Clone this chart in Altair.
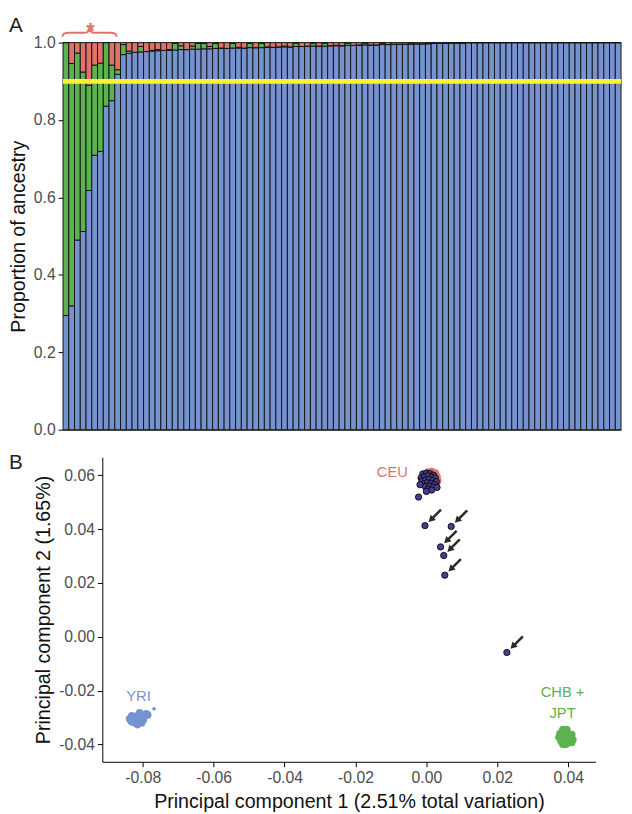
import altair as alt
import pandas as pd

# ---------------- Panel A data (97 individuals) ----------------
blue = [0.295, 0.320, 0.490, 0.512, 0.618, 0.709, 0.719, 0.836, 0.850, 0.918,
        0.969, 0.972, 0.975, 0.976, 0.977, 0.978, 0.979, 0.980, 0.980, 0.981,
        0.982, 0.982, 0.983, 0.983, 0.984, 0.984, 0.985, 0.985, 0.985, 0.986,
        0.986, 0.986, 0.987, 0.987, 0.987, 0.988, 0.988, 0.989, 0.989, 0.989,
        0.990, 0.990, 0.990, 0.991, 0.991, 0.991, 0.992, 0.992, 0.992, 0.993,
        0.993, 0.993, 0.994, 0.994, 0.994, 0.995, 0.995, 0.995, 0.996, 0.996,
        0.996, 0.997, 0.997, 0.997, 0.998, 0.998, 0.998, 0.999, 0.999, 0.999,
        1.0, 1.0, 1.0, 1.0, 1.0, 1.0, 1.0, 1.0, 1.0, 1.0,
        1.0, 1.0, 1.0, 1.0, 1.0, 1.0, 1.0, 1.0, 1.0, 1.0,
        1.0, 1.0, 1.0, 1.0, 1.0, 1.0, 1.0]
green = [0.705, 0.626, 0.483, 0.412, 0.272, 0.233, 0.228, 0.164, 0.092, 0.012,
         0.026, 0.006, 0.000, 0.014, 0.000, 0.002, 0.003, 0.000, 0.002, 0.017,
         0.010, 0.000, 0.008, 0.015, 0.014, 0.006, 0.013, 0.001, 0.000, 0.012,
         0.002, 0.000, 0.011, 0.000, 0.011, 0.001, 0.000, 0.000, 0.002, 0.000,
         0.009, 0.000, 0.001, 0.008, 0.000, 0.008, 0.000, 0.001, 0.000, 0.006,
         0.000, 0.001, 0.005, 0.000, 0.000, 0.004, 0.000, 0.001, 0.000, 0.000,
         0.003, 0.000, 0.000, 0.002, 0.001, 0.000, 0.001, 0.000, 0.001, 0.000,
         0.0, 0.0, 0.0, 0.0, 0.0, 0.0, 0.0, 0.0, 0.0, 0.0,
         0.0, 0.0, 0.0, 0.0, 0.0, 0.0, 0.0, 0.0, 0.0, 0.0,
         0.0, 0.0, 0.0, 0.0, 0.0, 0.0, 0.0]
red = [0.000, 0.054, 0.027, 0.076, 0.110, 0.058, 0.053, 0.000, 0.058, 0.070,
       0.005, 0.022, 0.025, 0.010, 0.023, 0.020, 0.018, 0.020, 0.018, 0.002,
       0.008, 0.018, 0.009, 0.002, 0.002, 0.010, 0.002, 0.014, 0.015, 0.002,
       0.012, 0.014, 0.002, 0.013, 0.002, 0.011, 0.012, 0.011, 0.009, 0.011,
       0.001, 0.010, 0.009, 0.001, 0.009, 0.001, 0.008, 0.007, 0.008, 0.001,
       0.007, 0.006, 0.001, 0.006, 0.006, 0.001, 0.005, 0.004, 0.004, 0.004,
       0.001, 0.003, 0.003, 0.001, 0.001, 0.002, 0.001, 0.001, 0.000, 0.001,
       0.0, 0.0, 0.0, 0.0, 0.0, 0.0, 0.0, 0.0, 0.0, 0.0,
       0.0, 0.0, 0.0, 0.0, 0.0, 0.0, 0.0, 0.0, 0.0, 0.0,
       0.0, 0.0, 0.0, 0.0, 0.0, 0.0, 0.0]
threshold = 0.9
a_ticks = [0.0, 0.2, 0.4, 0.6, 0.8, 1.0]

# ---------------- Panel B data ----------------
yri_x = [-0.0837, -0.0831, -0.0831, -0.0823, -0.0823, -0.0815, -0.0815, -0.0815,
         -0.0806, -0.0806, -0.0801, -0.0798, -0.0793, -0.0790, -0.0809, -0.0826, -0.0786,
         -0.0820, -0.0810, -0.0800, -0.0834, -0.0818, -0.0803]
yri_y = [-0.0304, -0.0293, -0.0315, -0.0301, -0.0319, -0.0293, -0.0312, -0.0326,
         -0.0301, -0.0315, -0.0290, -0.0308, -0.0293, -0.0286, -0.0282, -0.0308, -0.0290,
         -0.0308, -0.0308, -0.0300, -0.0310, -0.0298, -0.0320]
yri_dot_x = [-0.0768]
yri_dot_y = [-0.0267]

chb_x = [0.0385, 0.0396, 0.0377, 0.0388, 0.0399, 0.0410, 0.0374, 0.0385, 0.0396,
         0.0407, 0.0413, 0.0380, 0.0391, 0.0402, 0.0410, 0.0394, 0.0385, 0.0392]
chb_y = [-0.0344, -0.0344, -0.0359, -0.0359, -0.0359, -0.0363, -0.0373, -0.0373, -0.0373,
         -0.0377, -0.0381, -0.0388, -0.0388, -0.0392, -0.0392, -0.0399, -0.0399, -0.0366]

ceu_x = [0.0005, 0.0015, 0.0025, 0.0030, 0.0032, 0.0020, 0.0010, 0.0000, -0.0010, 0.0028, 0.0012]
ceu_y = [0.0612, 0.0614, 0.0608, 0.0595, 0.0580, 0.0565, 0.0555, 0.0575, 0.0595, 0.0570, 0.0600]

sample_x = [-0.0010, 0.0000, 0.0010, 0.0020, -0.0015, -0.0005, 0.0005, 0.0015, 0.0025,
            -0.0012, -0.0002, 0.0008, 0.0018, 0.0028, -0.0008, 0.0003, 0.0013, 0.0023,
            -0.0003, 0.0010, 0.0020, 0.0005, 0.0015, 0.0030, -0.0018, 0.0000,
            -0.0022, -0.0004, 0.0070, 0.0040, 0.0049, 0.0052, 0.0227]
sample_y = [0.0605, 0.0608, 0.0606, 0.0600, 0.0590, 0.0595, 0.0598, 0.0593, 0.0590,
            0.0578, 0.0582, 0.0585, 0.0580, 0.0576, 0.0568, 0.0572, 0.0570, 0.0566,
            0.0558, 0.0560, 0.0556, 0.0548, 0.0545, 0.0555, 0.0565, 0.0540,
            0.0519, 0.0413, 0.0410, 0.0334, 0.0302, 0.0229, -0.0058]
arrow_x = [-0.0004, 0.0070, 0.0040, 0.0049, 0.0052, 0.0227]
arrow_y = [0.0413, 0.0410, 0.0334, 0.0302, 0.0229, -0.0058]

label_text = ["CEU", "YRI", "CHB +", "JPT"]
label_x = [-0.0096, -0.0812, 0.0384, 0.0384]
label_y = [0.0610, -0.0220, -0.0206, -0.0285]
label_grp = ["CEU", "YRI", "CHB", "CHB"]

bx_ticks = [-0.08, -0.06, -0.04, -0.02, 0.00, 0.02, 0.04]
by_ticks = [-0.04, -0.02, 0.00, 0.02, 0.04, 0.06]

# ---------------- styling ----------------
FONT = "Liberation Sans"
BLUE = "#7793CF"
GREEN = "#5CB24F"
RED = "#E2716A"
PURPLE = "#483D8B"
YELLOW = "#F8F430"
LABEL_COL = "#4D4D4D"
GRP_SCALE = alt.Scale(domain=["CEU", "YRI", "CHB"], range=[RED, BLUE, GREEN])

# ---------------- Panel A ----------------
rows = []
for i in range(len(blue)):
    rows.append({"bar": i + 1, "g": "YRI", "ord": 0, "value": blue[i]})
    rows.append({"bar": i + 1, "g": "CHB", "ord": 1, "value": green[i]})
    rows.append({"bar": i + 1, "g": "CEU", "ord": 2, "value": red[i]})
bars_df = pd.DataFrame(rows)

bars = alt.Chart(bars_df).mark_bar(stroke="#141414", strokeWidth=1).encode(
    x=alt.X("bar:O", scale=alt.Scale(paddingInner=0, paddingOuter=0),
            axis=alt.Axis(labels=False, ticks=False, title=None, domainColor="#000000")),
    y=alt.Y("value:Q", stack="zero",
            scale=alt.Scale(domain=[0, 1], nice=False),
            axis=alt.Axis(values=a_ticks, format=".1f", title="Proportion of ancestry",
                          titlePadding=5)),
    color=alt.Color("g:N", scale=GRP_SCALE, legend=None),
    order=alt.Order("ord:Q"),
)

yline = alt.Chart(pd.DataFrame({"t": [threshold]})).mark_rule(
    color=YELLOW, strokeWidth=5).encode(y="t:Q")

# curly brace drawn as a wide custom symbol (x range -4..4 keeps the symbol bounds small)
BRACE = ("M -4 0.58 C -4 0.12 -3.72 0 -3.04 0 L -0.8 0 C -0.28 0 -0.08 -0.19 0 -0.58 "
         "C 0.08 -0.19 0.28 0 0.8 0 L 3.04 0 C 3.72 0 4 0.12 4 0.58")
brace = alt.Chart(pd.DataFrame({"s": ["brace"]})).mark_point(
    shape=BRACE, filled=False, size=189, stroke=RED, strokeWidth=2, opacity=1).encode(
    x=alt.value(27), y=alt.value(-10))

star = alt.Chart(pd.DataFrame({"s": ["*"]})).mark_text(
    color=RED, fontSize=22, font=FONT, fontWeight="bold",
    align="center", baseline="middle").encode(
    x=alt.value(28), y=alt.value(-12), text="s:N")

a_lab = alt.Chart(pd.DataFrame({"s": ["A"]})).mark_text(
    color="#222222", fontSize=21, font=FONT, align="left", baseline="top").encode(
    x=alt.value(-55), y=alt.value(-28), text="s:N")

panel_a = alt.layer(bars, yline, brace, star, a_lab).properties(width=568, height=394)

# ---------------- Panel B ----------------
blob_df = pd.concat([
    pd.DataFrame({"x": ceu_x, "y": ceu_y, "g": "CEU"}),
    pd.DataFrame({"x": yri_x, "y": yri_y, "g": "YRI"}),
    pd.DataFrame({"x": chb_x, "y": chb_y, "g": "CHB"}),
], ignore_index=True)

xs = alt.Scale(domain=[-0.0914, 0.0477], nice=False, zero=False)
ys = alt.Scale(domain=[-0.0464, 0.0667], nice=False, zero=False)
fmt = "(datum.value < 0 ? '-' : '') + format(abs(datum.value), '.2f')"

blobs = alt.Chart(blob_df).mark_circle(size=60, opacity=1).encode(
    x=alt.X("x:Q", scale=xs, axis=alt.Axis(values=bx_ticks, labelExpr=fmt, titlePadding=7,
            title="Principal component 1 (2.51% total variation)")),
    y=alt.Y("y:Q", scale=ys, axis=alt.Axis(values=by_ticks, labelExpr=fmt,
            title="Principal component 2 (1.65%)", titlePadding=5)),
    color=alt.Color("g:N", scale=GRP_SCALE, legend=None),
)

dot = alt.Chart(pd.DataFrame({"x": yri_dot_x, "y": yri_dot_y})).mark_circle(
    size=14, opacity=1, color=BLUE).encode(x=alt.X("x:Q", scale=xs), y=alt.Y("y:Q", scale=ys))

samples = alt.Chart(pd.DataFrame({"x": sample_x, "y": sample_y})).mark_point(
    shape="circle", filled=True, size=42, fill=PURPLE, stroke="#000000",
    strokeWidth=0.8, opacity=1).encode(x=alt.X("x:Q", scale=xs), y=alt.Y("y:Q", scale=ys))

ARROW = "M -1 -0.14 L 0.25 -0.14 L 0.25 -0.42 L 1 0 L 0.25 0.42 L 0.25 0.14 L -1 0.14 Z"
arrows = alt.Chart(pd.DataFrame({"x": arrow_x, "y": arrow_y})).mark_point(
    shape=ARROW, filled=True, size=320, angle=135, color="#2A2A2A", opacity=1,
    xOffset=10, yOffset=-10, strokeWidth=0).encode(
    x=alt.X("x:Q", scale=xs), y=alt.Y("y:Q", scale=ys))

labels = alt.Chart(pd.DataFrame({"x": label_x, "y": label_y, "t": label_text,
                                 "g": label_grp})).mark_text(
    fontSize=15, font=FONT, align="center", baseline="middle").encode(
    x=alt.X("x:Q", scale=xs), y=alt.Y("y:Q", scale=ys), text="t:N",
    color=alt.Color("g:N", scale=GRP_SCALE, legend=None))

b_lab = alt.Chart(pd.DataFrame({"s": ["B"]})).mark_text(
    color="#222222", fontSize=21, font=FONT, align="left", baseline="top").encode(
    x=alt.value(-95), y=alt.value(-5.5), text="s:N")

panel_b = alt.layer(blobs, dot, samples, arrows, labels, b_lab).properties(
    width=502, height=310)

spacer = alt.Chart(pd.DataFrame({"a": [0]})).mark_point(opacity=0).encode(
    x=alt.value(0), y=alt.value(0)).properties(width=40, height=10)

row_b = alt.hconcat(spacer, panel_b, spacing=0, bounds="flush")

chart = alt.vconcat(panel_a, row_b, spacing=14).properties(
    padding={"left": 0, "top": 0, "right": 0, "bottom": 0}
).configure_view(strokeWidth=0).configure_axis(
    grid=False, domainColor="#000000", tickColor="#000000", tickSize=5,
    labelFont=FONT, labelFontSize=16, labelColor=LABEL_COL, labelPadding=3,
    titleFont=FONT, titleFontSize=20, titleColor="#111111", titleFontWeight="normal",
)

chart.save("out.html", embed_options={"renderer": "svg", "actions": False})
